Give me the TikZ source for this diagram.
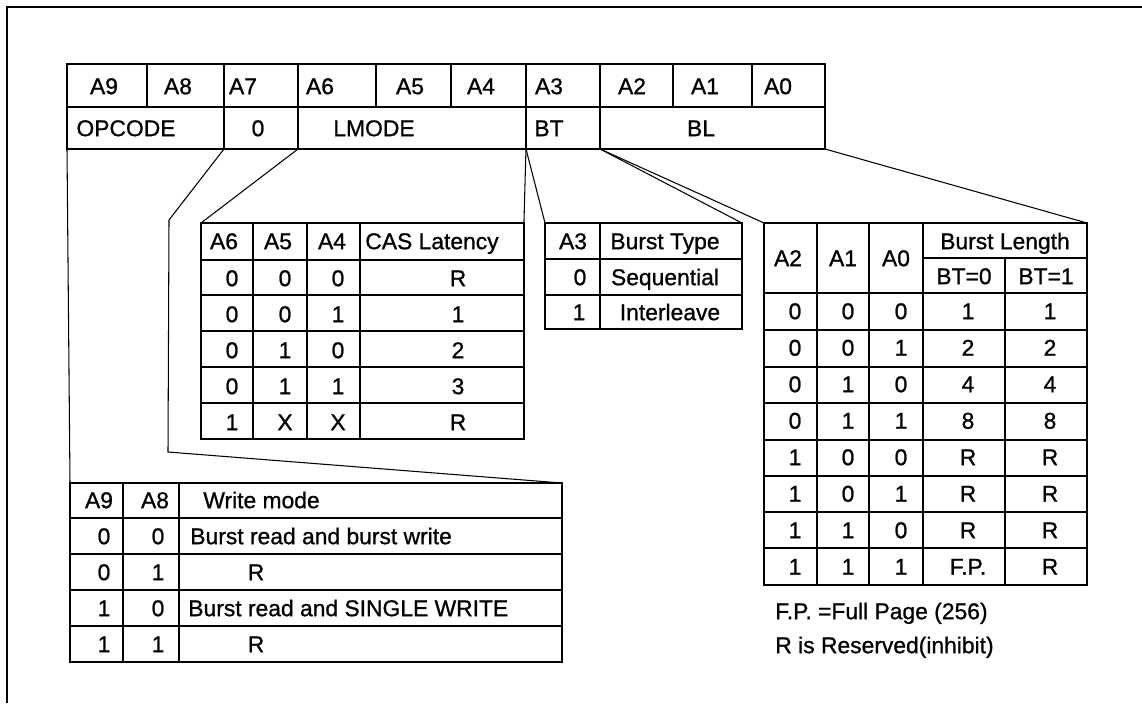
\documentclass[tikz,border=0pt]{standalone}
\usepackage{fontspec}
\setmainfont{Liberation Sans}
\newfontfamily\scanfont{Liberation Sans}[FakeBold=0.9]

\begin{document}
\begin{tikzpicture}[
  x=0.02cm, y=-0.02cm,
  font=\scanfont\fontsize{13}{15}\selectfont,
  rule/.style={line width=1.2pt},
  tab/.style={draw, line width=1.2pt, anchor=north west, inner sep=0pt, outer sep=0pt},
  link/.style={line width=0.6pt},
  txt/.style={inner sep=0pt, text height=9.3pt, text depth=0pt},
  ltxt/.style={txt, anchor=west}
]
  \useasboundingbox (0,0) rectangle (1142,703);
  \draw[rule] (7,703) -- (7,7) -- (1142,7);

  % mode register
  \node[tab, minimum width=15.16cm, minimum height=0.86cm] (addr) at (67,64) {};
  \foreach \x in {147,224,298,376,451,526,600,673,752} \draw[rule] (\x,64) -- (\x,107);
  \foreach \t/\x in {A9/104,A8/178,A7/243,A6/320,A5/410,A4/481,A3/549,A2/632,A1/705,A0/778}
    \node[txt] (reg\t) at (\x,86) {\t};
  \node[tab, minimum width=3.14cm, minimum height=0.84cm] (opc) at (67,107) {};
  \node[tab, minimum width=1.48cm, minimum height=0.84cm] (zero) at (224,107) {};
  \node[tab, minimum width=4.56cm, minimum height=0.84cm] (lmode) at (298,107) {};
  \node[tab, minimum width=1.48cm, minimum height=0.84cm] (bt) at (526,107) {};
  \node[tab, minimum width=4.5cm, minimum height=0.84cm] (bl) at (600,107) {};
  \node[txt] (opctxt) at (126,128) {OPCODE};
  \node[txt] (zerotxt) at (258,128) {0};
  \node[txt] (lmodetxt) at (374,128) {LMODE};
  \node[txt] (bttxt) at (549,128) {BT};
  \node[txt] (bltxt) at (701,128) {BL};

  % CAS latency
  \node[tab, minimum width=6.46cm, minimum height=4.32cm] (cas) at (201,223) {};
  \foreach \x in {253,307,360} \draw[rule] (\x,223) -- (\x,439);
  \foreach \y in {260,295,331,367,403} \draw[rule] (201,\y) -- (524,\y);
  \node[txt] (casA6) at (224,241) {A6};
  \node[txt] (casA5) at (278,241) {A5};
  \node[txt] (casA4) at (332,241) {A4};
  \node[ltxt] (cashead) at (365,241) {CAS Latency};
  \foreach \a/\b/\c/\v [count=\i] in {0/0/0/R,0/0/1/1,0/1/0/2,0/1/1/3,1/X/X/R} {
    \pgfmathsetmacro\y{242+36*\i}
    \node[txt] (cas-\i-a) at (232,\y) {\a};
    \node[txt] (cas-\i-b) at (285,\y) {\b};
    \node[txt] (cas-\i-c) at (338,\y) {\c};
    \node[txt] (cas-\i-v) at (458,\y) {\v};
  }

  % burst type
  \node[tab, minimum width=3.94cm, minimum height=2.12cm] (btt) at (545,223) {};
  \draw[rule] (600,223) -- (600,329);
  \foreach \y in {259,295} \draw[rule] (545,\y) -- (742,\y);
  \node[txt] (bttA3) at (573,241) {A3};
  \node[txt] (btthead) at (665,241) {Burst Type};
  \node[txt] (btt-1-a) at (580,277) {0};
  \node[txt] (btt-1-v) at (665,277) {Sequential};
  \node[txt] (btt-2-a) at (579,312) {1};
  \node[txt] (btt-2-v) at (670,312) {Interleave};

  % burst length
  \node[tab, minimum width=6.46cm, minimum height=7.24cm] (blt) at (764,223) {};
  \foreach \x in {817,869,923} \draw[rule] (\x,223) -- (\x,585);
  \draw[rule] (1005,258) -- (1005,585);
  \draw[rule] (923,258) -- (1087,258);
  \foreach \y in {293,330,367,403,440,476,512,548} \draw[rule] (764,\y) -- (1087,\y);
  \node[txt] (bltA2) at (788,258) {A2};
  \node[txt] (bltA1) at (843,258) {A1};
  \node[txt] (bltA0) at (896,258) {A0};
  \node[txt] (blthead) at (1005,241) {Burst Length};
  \node[txt] (bltbt0) at (964,276) {BT=0};
  \node[txt] (bltbt1) at (1046,276) {BT=1};
  \foreach \a/\b/\c/\u/\v [count=\i] in {0/0/0/1/1,0/0/1/2/2,0/1/0/4/4,0/1/1/8/8,
      1/0/0/R/R,1/0/1/R/R,1/1/0/R/R,1/1/1/F.P./R} {
    \pgfmathsetmacro\y{274.5+36.5*\i}
    \node[txt] (blt-\i-a) at (795,\y) {\a};
    \node[txt] (blt-\i-b) at (848,\y) {\b};
    \node[txt] (blt-\i-c) at (901,\y) {\c};
    \node[txt] (blt-\i-u) at (968,\y) {\u};
    \node[txt] (blt-\i-v) at (1050,\y) {\v};
  }
  \node[ltxt] (fpnote) at (775,611) {F.P. =Full Page (256)};
  \node[ltxt] (rnote) at (775,645) {R is Reserved(inhibit)};

  % write mode
  \node[tab, minimum width=9.84cm, minimum height=3.58cm] (wm) at (70,483) {};
  \foreach \x in {123,179} \draw[rule] (\x,483) -- (\x,662);
  \foreach \y in {518,554,590,626} \draw[rule] (70,\y) -- (562,\y);
  \node[txt] (wmA9) at (99,500) {A9};
  \node[txt] (wmA8) at (155,500) {A8};
  \node[ltxt] (wmhead) at (203,500) {Write mode};
  \node[txt] (wm-1-a) at (104,536) {0};
  \node[txt] (wm-1-b) at (158,536) {0};
  \node[ltxt] (wm-1-v) at (190,536) {Burst read and burst write};
  \node[txt] (wm-2-a) at (104,572) {0};
  \node[txt] (wm-2-b) at (158,572) {1};
  \node[txt] (wm-2-v) at (256,572) {R};
  \node[txt] (wm-3-a) at (104,608) {1};
  \node[txt] (wm-3-b) at (158,608) {0};
  \node[ltxt] (wm-3-v) at (188,608) {Burst read and SINGLE WRITE};
  \node[txt] (wm-4-a) at (104,644) {1};
  \node[txt] (wm-4-b) at (158,644) {1};
  \node[txt] (wm-4-v) at (256,644) {R};

  % fan-out lines
  \coordinate (bendA) at (169,220);
  \coordinate (bendB) at (168,452);
  \draw[link] (opc.south west) -- (wm.north west);
  \draw[link] (opc.south east) -- (bendA) -- (bendB) -- (wm.north east);
  \draw[link] (zero.south east) -- (cas.north west);
  \draw[link] (lmode.south east) -- (cas.north east);
  \draw[link] (bt.south west) -- (btt.north west);
  \draw[link] (bt.south east) -- (btt.north east);
  \draw[link] (bl.south west) -- (blt.north west);
  \draw[link] (bl.south east) -- (blt.north east);
\end{tikzpicture}
\end{document}
